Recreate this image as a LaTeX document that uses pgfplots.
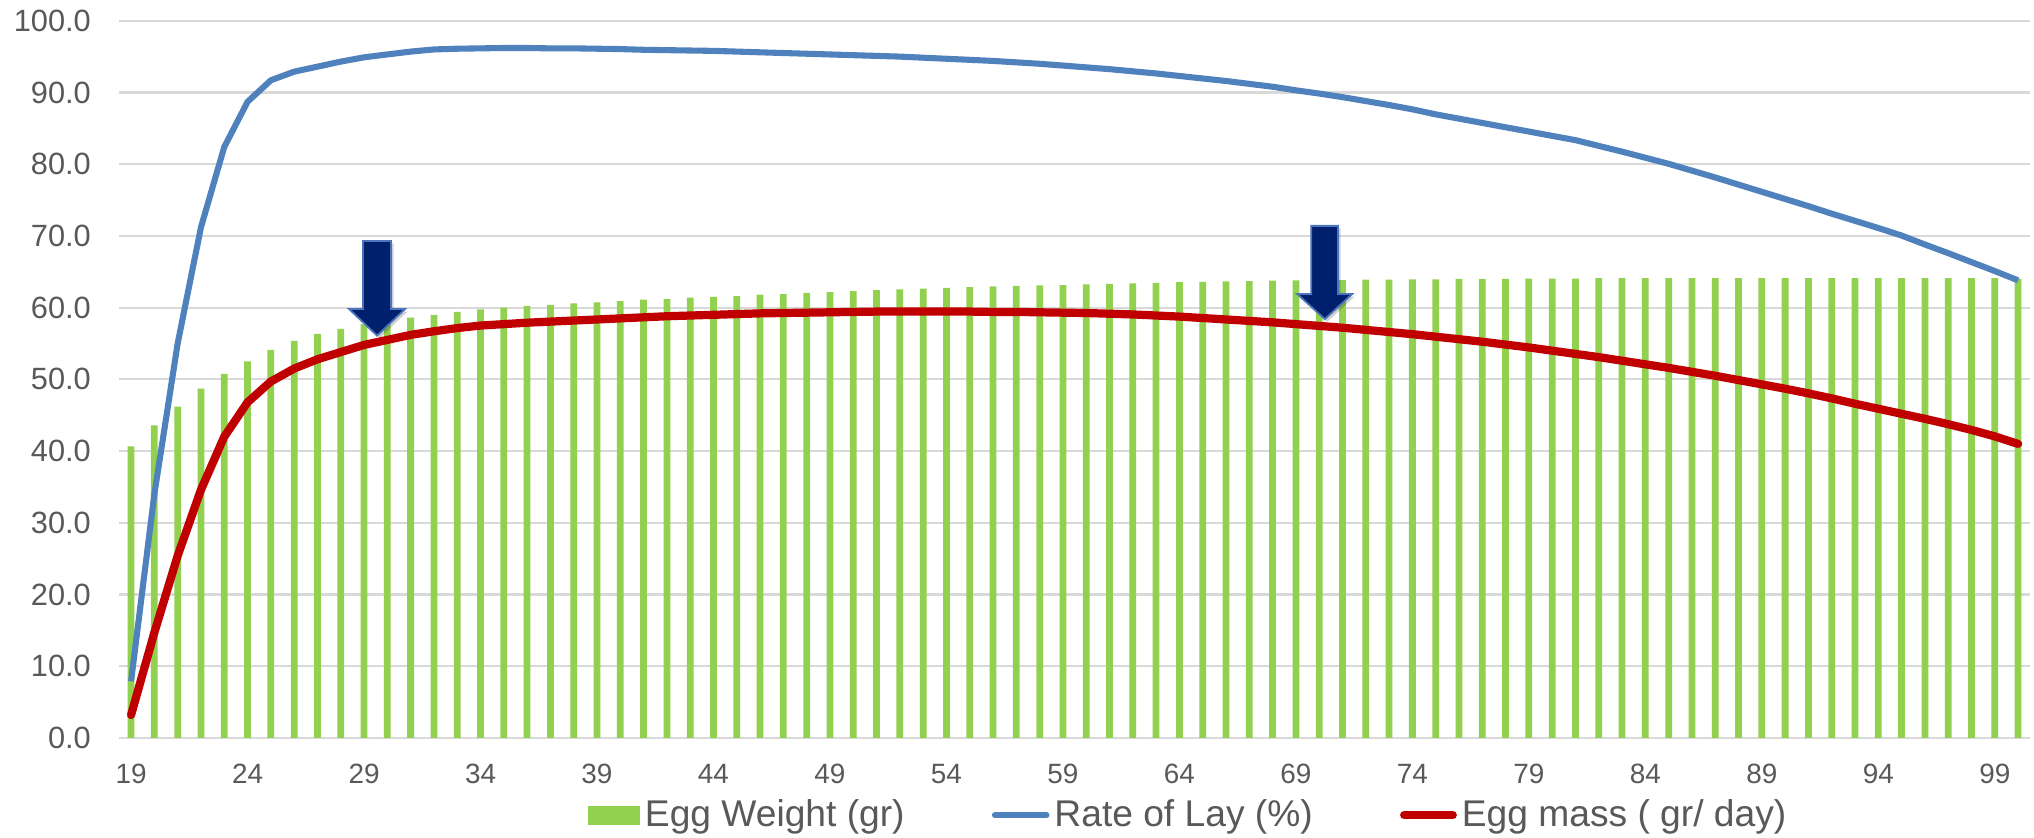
\documentclass[border=0pt]{standalone}
\usepackage{fontspec}
\setmainfont{Liberation Sans}
\usepackage{pgfplots}
\usepackage{pgfplotstable}
\pgfplotsset{compat=1.18}

\definecolor{barGreen}{HTML}{92D050}
\definecolor{layBlue}{HTML}{4F81BD}
\definecolor{massRed}{HTML}{C00000}
\definecolor{gridGray}{HTML}{D9D9D9}
\definecolor{textGray}{HTML}{595959}
\definecolor{arrowNavy}{HTML}{001F6C}
\definecolor{arrowEdge}{HTML}{4A74BC}

% week, egg weight (g), rate of lay (%), egg mass (g/day)
\pgfplotstableread{
week weight lay mass
19 40.65 7.9 3.2
20 43.6 34.0 14.7
21 46.2 55.0 25.4
22 48.7 71.2 34.6
23 50.75 82.4 42.0
24 52.5 88.7 46.8
25 54.1 91.7 49.7
26 55.35 92.9 51.5
27 56.35 93.6 52.8
28 57.05 94.3 53.8
29 57.7 94.9 54.8
30 58.2 95.3 55.5
31 58.6 95.7 56.2
32 59.0 96.0 56.7
33 59.4 96.1 57.15
34 59.75 96.15 57.5
35 60.0 96.2 57.7
36 60.25 96.2 57.9
37 60.4 96.15 58.05
38 60.6 96.15 58.2
39 60.75 96.1 58.35
40 60.9 96.05 58.5
41 61.1 95.95 58.65
42 61.2 95.9 58.8
43 61.4 95.85 58.9
44 61.5 95.8 59.0
45 61.6 95.7 59.1
46 61.8 95.6 59.2
47 61.9 95.5 59.25
48 62.05 95.4 59.3
49 62.15 95.3 59.35
50 62.3 95.2 59.4
51 62.45 95.1 59.45
52 62.55 95.0 59.45
53 62.65 94.85 59.45
54 62.75 94.7 59.45
55 62.85 94.55 59.45
56 62.95 94.4 59.4
57 63.05 94.2 59.4
58 63.1 94.0 59.35
59 63.15 93.75 59.3
60 63.25 93.5 59.25
61 63.3 93.25 59.15
62 63.4 92.95 59.05
63 63.45 92.65 58.9
64 63.55 92.3 58.75
65 63.6 91.95 58.55
66 63.65 91.6 58.35
67 63.7 91.2 58.15
68 63.75 90.8 57.95
69 63.8 90.3 57.7
70 63.8 89.85 57.45
71 63.85 89.35 57.2
72 63.9 88.8 56.9
73 63.9 88.25 56.6
74 63.95 87.65 56.3
75 63.95 86.95 55.95
76 64.0 86.35 55.6
77 64.0 85.75 55.25
78 64.0 85.15 54.85
79 64.05 84.55 54.45
80 64.05 83.95 54.0
81 64.05 83.35 53.55
82 64.1 82.55 53.1
83 64.1 81.75 52.6
84 64.1 80.9 52.1
85 64.1 80.05 51.6
86 64.1 79.1 51.05
87 64.1 78.15 50.5
88 64.1 77.15 49.9
89 64.1 76.15 49.3
90 64.1 75.15 48.7
91 64.1 74.15 48.05
92 64.1 73.1 47.35
93 64.1 72.1 46.6
94 64.1 71.1 45.9
95 64.1 70.05 45.2
96 64.1 68.8 44.5
97 64.1 67.6 43.75
98 64.1 66.35 42.95
99 64.1 65.1 42.05
100 64.0 63.8 41.0
}\layingdata

\begin{document}
\begin{tikzpicture}
% page background
\fill[white] (-33.4pt,-27.7pt) rectangle (535.5pt,206.4pt);
\begin{axis}[
  scale only axis,
  width=534.3pt, height=200.6pt,
  xmin=18.5, xmax=100.5,
  ymin=0, ymax=100,
  xtick={19,24,...,99},
  ytick={0,10,...,100},
  ymajorgrids,
  grid style={color=gridGray, line width=0.6pt},
  axis line style={draw=none},
  major tick length=0pt,
  /pgf/number format/assume math mode=true,
  tick label style={text=textGray},
  xticklabel style={font=\fontsize{7.8}{9}\selectfont, anchor=north, inner sep=0pt, yshift=-7.2pt},
  yticklabel style={font=\fontsize{8.6}{10}\selectfont, anchor=east, inner sep=0pt, xshift=-7.8pt,
    /pgf/number format/.cd, fixed, fixed zerofill, precision=1},
  legend columns=3,
  legend cell align=left,
  legend style={
    draw=none, fill=none, inner sep=0pt,
    at={(0.2448,-0.1077)}, anchor=west,
    font=\fontsize{10.4}{12}\selectfont, text=textGray,
    nodes={inner sep=0.4pt},
    /tikz/every odd column/.append style={column sep=1pt},
    /tikz/every even column/.append style={column sep=24pt},
  },
]
\addplot[ybar, bar width=0.29, fill=barGreen, draw=none,
  legend image code/.code={\fill[barGreen] (0pt,-2.65pt) rectangle (14.6pt,2.65pt);}]
  table[x=week, y=weight] {\layingdata};
\addlegendentry{Egg Weight (gr)}

\addplot[layBlue, line width=1.7pt, line join=round, no markers,
  legend image code/.code={\draw[layBlue, line width=1.7pt, line cap=round] (0.8pt,0pt) -- (15.2pt,0pt);}]
  table[x=week, y=lay] {\layingdata};
\addlegendentry{Rate of Lay (\%)}

\addplot[massRed, line width=2.3pt, line join=round, line cap=round, no markers,
  legend image code/.code={\draw[massRed, line width=2.3pt, line cap=round] (1pt,0pt) -- (14.6pt,0pt);}]
  table[x=week, y=mass] {\layingdata};
\addlegendentry{Egg mass ( gr/ day)}

% downward arrows marking week 29/30 and week 70
\fill[black, opacity=0.18]
  ([xshift=0.7pt,yshift=-0.7pt]axis cs:28.96,69.3) -- ([xshift=0.7pt,yshift=-0.7pt]axis cs:30.16,69.3) --
  ([xshift=0.7pt,yshift=-0.7pt]axis cs:30.16,59.8) -- ([xshift=0.7pt,yshift=-0.7pt]axis cs:30.76,59.8) --
  ([xshift=0.7pt,yshift=-0.7pt]axis cs:29.56,56.1) -- ([xshift=0.7pt,yshift=-0.7pt]axis cs:28.36,59.8) --
  ([xshift=0.7pt,yshift=-0.7pt]axis cs:28.96,59.8) -- cycle;
\filldraw[fill=arrowNavy, draw=arrowEdge, line width=0.5pt, line join=miter]
  (axis cs:28.96,69.3) -- (axis cs:30.16,69.3) -- (axis cs:30.16,59.8) -- (axis cs:30.76,59.8) --
  (axis cs:29.56,56.1) -- (axis cs:28.36,59.8) -- (axis cs:28.96,59.8) -- cycle;

\fill[black, opacity=0.18]
  ([xshift=0.7pt,yshift=-0.7pt]axis cs:69.66,71.4) -- ([xshift=0.7pt,yshift=-0.7pt]axis cs:70.81,71.4) --
  ([xshift=0.7pt,yshift=-0.7pt]axis cs:70.81,61.9) -- ([xshift=0.7pt,yshift=-0.7pt]axis cs:71.42,61.9) --
  ([xshift=0.7pt,yshift=-0.7pt]axis cs:70.24,58.4) -- ([xshift=0.7pt,yshift=-0.7pt]axis cs:69.06,61.9) --
  ([xshift=0.7pt,yshift=-0.7pt]axis cs:69.66,61.9) -- cycle;
\filldraw[fill=arrowNavy, draw=arrowEdge, line width=0.5pt, line join=miter]
  (axis cs:69.66,71.4) -- (axis cs:70.81,71.4) -- (axis cs:70.81,61.9) -- (axis cs:71.42,61.9) --
  (axis cs:70.24,58.4) -- (axis cs:69.06,61.9) -- (axis cs:69.66,61.9) -- cycle;
\end{axis}
\pgfresetboundingbox
\useasboundingbox (-33.4pt,-27.7pt) rectangle (535.5pt,206.4pt);
\end{tikzpicture}
\end{document}
